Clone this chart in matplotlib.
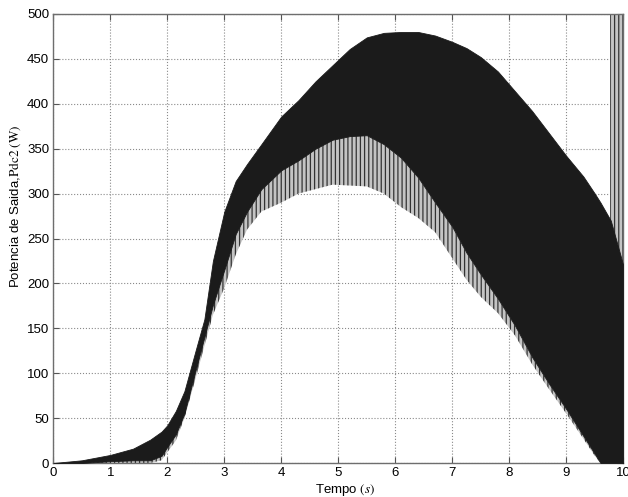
import numpy as np
import matplotlib
matplotlib.use('Agg')
from matplotlib import pyplot as plt

# envelope of the output power signal
t_env = [0, 0.5, 1.0, 1.4, 1.7, 1.9, 2.0, 2.15, 2.3, 2.5, 2.65, 2.8, 3.0, 3.2, 3.4,
         3.65, 4.0, 4.3, 4.6, 4.9, 5.2, 5.5, 5.8, 6.1, 6.4, 6.7, 7.0, 7.25, 7.5,
         7.8, 8.1, 8.4, 8.7, 9.0, 9.3, 9.5, 9.6, 9.78, 10.0]
upper = [0, 3, 9, 16, 26, 35, 42, 58, 80, 126, 160, 225, 280, 314, 333,
         355, 386, 404, 425, 443, 461, 474, 479, 480, 480, 476, 469, 462, 452,
         436, 414, 392, 367, 342, 319, 300, 290, 270, 220]
lower_black = [0, 0, 2, 3, 3, 8, 18, 32, 55, 104, 140, 176, 215, 255, 280,
               305, 326, 337, 350, 360, 364, 365, 355, 340, 318, 290, 263, 234, 210,
               183, 153, 118, 88, 60, 30, 10, 0, 0, 0]
lower_spike = [0, 0, 0, 0, 0, 3, 12, 25, 50, 95, 130, 165, 195, 232, 260,
               280, 290, 300, 305, 310, 309, 308, 300, 285, 273, 257, 228, 204, 185,
               167, 142, 110, 82, 55, 27, 8, 0, 0, 0]

# burst at the end of the run (spikes up to the top of the axes)
burst_t = [9.77, 10.0]
burst_bottom = [270, 220]
burst_top = [500, 500]

xticks = [0, 1, 2, 3, 4, 5, 6, 7, 8, 9, 10]
yticks = [0, 50, 100, 150, 200, 250, 300, 350, 400, 450, 500]

plt.rcParams['font.family'] = ['Liberation Sans', 'DejaVu Sans']
plt.rcParams['mathtext.fontset'] = 'stix'
plt.rcParams['hatch.linewidth'] = 0.9

fig = plt.figure(figsize=(6.28, 4.97), dpi=100)
ax = fig.add_axes([53.3 / 628, 1 - 463 / 497, 570 / 628, 449 / 497])

ink = '#1b1b1b'
ax.fill_between(t_env, lower_spike, lower_black, facecolor='#c4c4c4',
                edgecolor='#333333', hatch='||||', linewidth=0, zorder=2)
ax.fill_between(t_env, lower_black, upper, color=ink, linewidth=0.6, zorder=3)
ax.fill_between(burst_t, burst_bottom, burst_top, facecolor='#c4c4c4',
                edgecolor='#333333', hatch='||||', linewidth=0, zorder=2)

ax.set_xlim(0, 10)
ax.set_ylim(0, 500)
ax.set_xticks(xticks)
ax.set_yticks(yticks)
ax.grid(True, linestyle=':', color='#8a8a8a', linewidth=0.8, zorder=0)
ax.set_axisbelow(True)
ax.tick_params(direction='in', length=4, width=0.8, color='#555555',
               top=True, right=True, labelsize=9.5, pad=3)
for s in ax.spines.values():
    s.set_color('#6e6e6e')
    s.set_linewidth(1.0)

fig.text(345 / 628, 1 - 490 / 497, r'Tempo $(s)$', ha='center', va='center', fontsize=9.5)
fig.text(15 / 628, 1 - 206 / 497, r'Potencia de Saida,$\mathrm{Pdc2\ (W)}$',
         rotation=90, ha='center', va='center', fontsize=9.5)

fig.savefig('out.png', dpi=100)
